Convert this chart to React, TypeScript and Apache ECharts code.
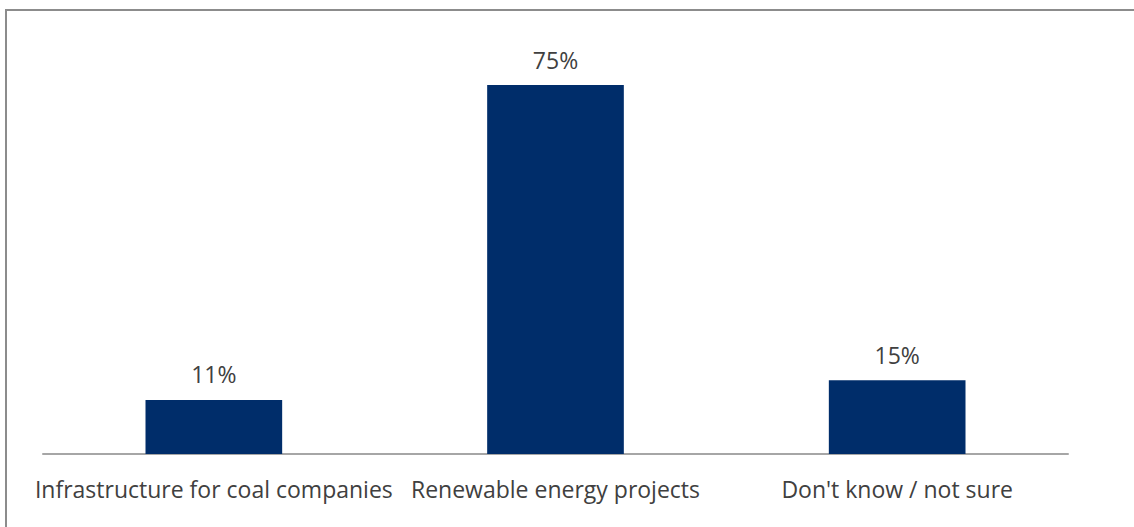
import React, { useEffect, useRef } from "react";
import * as echarts from "echarts";

const categories = ["Infrastructure for coal companies", "Renewable energy projects", "Don't know / not sure"];
const values = [11, 75, 15];

export default function App() {
  const ref = useRef<HTMLDivElement>(null);
  useEffect(() => {
    const chart = echarts.init(ref.current!, null, { renderer: "svg" });
    chart.setOption({
      animation: false,
      backgroundColor: "#ffffff",
      graphic: [
        {
          type: "rect",
          shape: { x: 6, y: 10, width: 1200, height: 600 },
          style: { fill: "none", stroke: "#8c8c8c", lineWidth: 2 },
          silent: true,
        },
      ],
      grid: { left: 43, right: 66, top: 60.4, bottom: 73 },
      xAxis: {
        type: "category",
        data: categories,
        axisLine: { lineStyle: { color: "#a6a6a6", width: 2 } },
        axisTick: { show: false },
        axisLabel: {
          interval: 0,
          color: "#404040",
          fontFamily: "Open Sans",
          fontSize: 23,
          margin: 23,
        },
      },
      yAxis: {
        type: "value",
        min: 0,
        max: 80,
        show: false,
        splitLine: { show: false },
      },
      series: [
        {
          type: "bar",
          data: values,
          barWidth: "40%",
          itemStyle: { color: "#002d6a" },
          label: {
            show: true,
            position: "top",
            distance: 14,
            formatter: "{c}%",
            color: "#404040",
            fontFamily: "Open Sans",
            fontSize: 23,
          },
        },
      ],
    });
    return () => chart.dispose();
  }, []);
  return (
    <div
      ref={ref}
      style={{ position: "absolute", left: 0, top: 0, width: 1134, height: 527 }}
    />
  );
}
